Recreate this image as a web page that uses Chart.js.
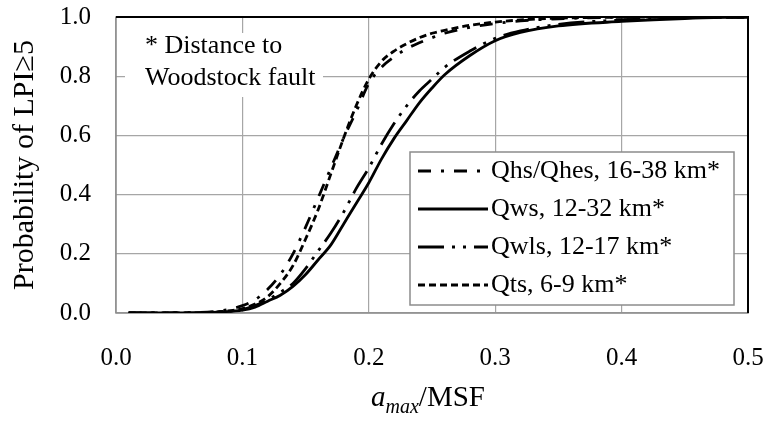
<!DOCTYPE html>
<html>
<head>
<meta charset="utf-8">
<script src="https://cdn.jsdelivr.net/npm/chart.js@4.4.0/dist/chart.umd.min.js"></script>
<style>
  html, body { margin: 0; background: #fff; }
</style>
</head>
<body>
<canvas id="cdf" width="763" height="421"></canvas>
<script>
// a_max/MSF sample points shared by every curve
const xVals = [0.01, 0.05, 0.08, 0.10, 0.11, 0.12, 0.13, 0.14, 0.15, 0.16, 0.17, 0.18, 0.19,
  0.20, 0.21, 0.22, 0.23, 0.24, 0.25, 0.26, 0.28, 0.30, 0.32, 0.35, 0.40, 0.45, 0.50];

// P(LPI >= 5) per geologic unit
const qhsQhes = [0, 0.001, 0.006, 0.025, 0.045, 0.08, 0.13, 0.20, 0.29, 0.39, 0.49, 0.59, 0.68,
  0.775, 0.83, 0.865, 0.893, 0.913, 0.93, 0.945, 0.965, 0.978, 0.987, 0.994, 0.999, 1, 1];
const qws = [0, 0, 0.003, 0.01, 0.02, 0.04, 0.06, 0.09, 0.13, 0.18, 0.23, 0.30, 0.37,
  0.44, 0.52, 0.59, 0.65, 0.71, 0.76, 0.805, 0.87, 0.92, 0.948, 0.97, 0.985, 0.995, 1];
const qwls = [0, 0, 0.003, 0.012, 0.025, 0.045, 0.07, 0.10, 0.15, 0.21, 0.27, 0.34, 0.42,
  0.49, 0.57, 0.64, 0.70, 0.75, 0.79, 0.83, 0.885, 0.928, 0.953, 0.975, 0.99, 0.997, 1];
const qts = [0, 0, 0.004, 0.015, 0.03, 0.055, 0.10, 0.16, 0.25, 0.35, 0.47, 0.59, 0.70,
  0.79, 0.85, 0.885, 0.91, 0.93, 0.945, 0.955, 0.972, 0.983, 0.99, 0.996, 0.999, 1, 1];

const seriesLabels = ['Qhs/Qhes, 16-38 km*', 'Qws, 12-32 km*', 'Qwls, 12-17 km*', 'Qts, 6-9 km*'];
const xTicks = [0, 0.1, 0.2, 0.3, 0.4, 0.5];
const yTicks = [0, 0.2, 0.4, 0.6, 0.8, 1.0];
const note = ['* Distance to', 'Woodstock fault'];

const SERIF = '"Liberation Serif", "Times New Roman", serif';

function pts(ys) { return xVals.map((x, i) => ({ x, y: ys[i] })); }

// dash-dot, solid, dash-dot-dot, short dash
const dashes = [[13, 10, 3, 10], [], [26, 8, 3, 8, 3, 8], [7, 4]];

const datasets = [qhsQhes, qws, qwls, qts].map((ys, i) => ({
  label: seriesLabels[i],
  data: pts(ys),
  borderColor: '#000',
  borderWidth: 2.8,
  borderDash: dashes[i],
  pointRadius: 0,
  fill: false,
  cubicInterpolationMode: 'monotone',
}));

const framePlugin = {
  id: 'frame',
  beforeDatasetsDraw(chart) {
    const { ctx, chartArea: a } = chart;
    ctx.save();
    ctx.strokeStyle = '#8c8c8c';
    ctx.lineWidth = 1.5;
    ctx.strokeRect(a.left, a.top, a.right - a.left, a.bottom - a.top);
    ctx.strokeStyle = '#000';
    ctx.lineWidth = 2;
    ctx.beginPath();
    ctx.moveTo(a.left, a.top);
    ctx.lineTo(a.right, a.top);
    ctx.lineTo(a.right, a.bottom);
    ctx.stroke();
    ctx.restore();
  },
  afterDraw(chart) {
    const { ctx, chartArea: a } = chart;
    ctx.save();
    // note in the upper left
    ctx.fillStyle = '#fff';
    ctx.fillRect(a.left + 9, a.top + 16, 198, 64);
    ctx.fillStyle = '#000';
    ctx.font = '26px ' + SERIF;
    ctx.textBaseline = 'alphabetic';
    ctx.fillText(note[0], a.left + 29, a.top + 36);
    ctx.fillText(note[1], a.left + 29, a.top + 68);

    // legend box
    const lx = 410, ly = 152, lw = 324, lh = 153;
    ctx.fillStyle = '#fff';
    ctx.fillRect(lx, ly, lw, lh);
    ctx.strokeStyle = '#8c8c8c';
    ctx.lineWidth = 1.5;
    ctx.strokeRect(lx, ly, lw, lh);
    chart.data.datasets.forEach((ds, i) => {
      const cy = ly + 19 + i * 38;
      ctx.strokeStyle = '#000';
      ctx.lineWidth = ds.borderWidth;
      ctx.setLineDash(ds.borderDash);
      ctx.beginPath();
      ctx.moveTo(lx + 8, cy);
      ctx.lineTo(lx + 78, cy);
      ctx.stroke();
      ctx.setLineDash([]);
      ctx.fillStyle = '#000';
      ctx.font = '26px ' + SERIF;
      ctx.textBaseline = 'middle';
      ctx.fillText(ds.label, lx + 81, cy);
    });

    // x axis title: italic a with subscript max, then /MSF
    const base = 406;
    const p1 = 'a', p2 = 'max', p3 = '/MSF';
    ctx.textBaseline = 'alphabetic';
    ctx.font = 'italic 29px ' + SERIF;
    const w1 = ctx.measureText(p1).width;
    ctx.font = 'italic 20px ' + SERIF;
    const w2 = ctx.measureText(p2).width;
    ctx.font = '29px ' + SERIF;
    const w3 = ctx.measureText(p3).width;
    let x = (a.left + a.right) / 2 - 4 - (w1 + w2 + w3) / 2;
    ctx.font = 'italic 29px ' + SERIF;
    ctx.fillText(p1, x, base);
    x += w1;
    ctx.font = 'italic 20px ' + SERIF;
    ctx.fillText(p2, x, base + 7);
    x += w2;
    ctx.font = '29px ' + SERIF;
    ctx.fillText(p3, x, base);
    ctx.restore();
  }
};

new Chart(document.getElementById('cdf'), {
  type: 'line',
  data: { datasets },
  options: {
    responsive: false,
    animation: false,
    devicePixelRatio: 1,
    layout: { padding: { top: 17, right: 15, left: 0, bottom: 0 } },
    plugins: { legend: { display: false }, tooltip: { enabled: false } },
    scales: {
      x: {
        type: 'linear',
        min: 0, max: 0.5,
        afterBuildTicks: (s) => { s.ticks = xTicks.map(v => ({ value: v })); },
        afterFit: (s) => { s.height = 108; s.paddingLeft = 0; s.paddingRight = 0; },
        ticks: {
          callback: (v) => Number(v).toFixed(1),
          color: '#000',
          font: { family: SERIF, size: 25 },
          padding: 30,
          maxRotation: 0,
        },
        grid: { color: '#a6a6a6', lineWidth: 1.2, drawTicks: false },
        border: { display: false },
      },
      y: {
        min: 0, max: 1,
        afterBuildTicks: (s) => { s.ticks = yTicks.map(v => ({ value: v })); },
        afterFit: (s) => { s.width = 116; s.paddingTop = 0; s.paddingBottom = 0; },
        ticks: {
          callback: (v) => Number(v).toFixed(1),
          color: '#000',
          font: { family: SERIF, size: 25 },
          padding: 25,
        },
        grid: { color: '#a6a6a6', lineWidth: 1.2, drawTicks: false },
        border: { display: false },
        title: {
          display: true,
          text: 'Probability of LPI\u22655',
          color: '#000',
          font: { family: SERIF, size: 30 },
          padding: { top: 7, bottom: 0 },
        },
      },
    },
  },
  plugins: [framePlugin],
});
</script>
</body>
</html>
